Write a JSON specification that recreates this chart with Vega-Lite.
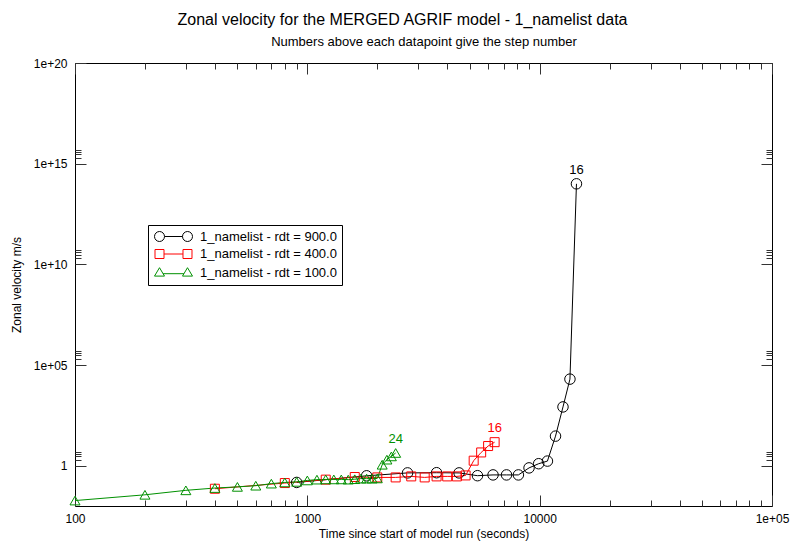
{
  "$schema": "https://vega.github.io/schema/vega-lite/v6.json",
  "autosize": {"type": "none"},
  "padding": {"left": 75, "top": 63, "right": 19, "bottom": 42},
  "width": 697,
  "height": 443,
  "title": {"text": "Zonal velocity for the MERGED AGRIF model - 1_namelist data", "fontSize": 16, "fontWeight": "normal", "font": "Liberation Sans", "color": "black", "anchor": "middle", "offset": 8, "dx": -21},
  "config": {
    "view": {"stroke": "black", "strokeWidth": 1},
    "font": "Liberation Sans",
    "axis": {"grid": false, "domain": false, "tickColor": "#333333", "tickWidth": 1, "labelFont": "Liberation Sans", "labelFontSize": 12, "labelColor": "black", "titleFont": "Liberation Sans", "titleFontSize": 12, "titleFontWeight": "normal", "titleColor": "black", "labelFlush": false, "labelOverlap": false}
  },
  "data": {"values": [
    {"series": "1_namelist - rdt = 900.0", "step": 1, "t": 900, "v": 0.148},
    {"series": "1_namelist - rdt = 900.0", "step": 2, "t": 1800, "v": 0.316},
    {"series": "1_namelist - rdt = 900.0", "step": 3, "t": 2700, "v": 0.44},
    {"series": "1_namelist - rdt = 900.0", "step": 4, "t": 3600, "v": 0.45},
    {"series": "1_namelist - rdt = 900.0", "step": 5, "t": 4500, "v": 0.44},
    {"series": "1_namelist - rdt = 900.0", "step": 6, "t": 5400, "v": 0.32},
    {"series": "1_namelist - rdt = 900.0", "step": 7, "t": 6300, "v": 0.35},
    {"series": "1_namelist - rdt = 900.0", "step": 8, "t": 7200, "v": 0.35},
    {"series": "1_namelist - rdt = 900.0", "step": 9, "t": 8100, "v": 0.35},
    {"series": "1_namelist - rdt = 900.0", "step": 10, "t": 9000, "v": 0.78},
    {"series": "1_namelist - rdt = 900.0", "step": 11, "t": 9900, "v": 1.26},
    {"series": "1_namelist - rdt = 900.0", "step": 12, "t": 10800, "v": 1.7},
    {"series": "1_namelist - rdt = 900.0", "step": 13, "t": 11700, "v": 29.5},
    {"series": "1_namelist - rdt = 900.0", "step": 14, "t": 12600, "v": 832},
    {"series": "1_namelist - rdt = 900.0", "step": 15, "t": 13500, "v": 20000},
    {"series": "1_namelist - rdt = 900.0", "step": 16, "t": 14400, "v": 1.0e14},
    {"series": "1_namelist - rdt = 400.0", "step": 1, "t": 400, "v": 0.072},
    {"series": "1_namelist - rdt = 400.0", "step": 2, "t": 800, "v": 0.138},
    {"series": "1_namelist - rdt = 400.0", "step": 3, "t": 1200, "v": 0.204},
    {"series": "1_namelist - rdt = 400.0", "step": 4, "t": 1600, "v": 0.275},
    {"series": "1_namelist - rdt = 400.0", "step": 5, "t": 2000, "v": 0.263},
    {"series": "1_namelist - rdt = 400.0", "step": 6, "t": 2400, "v": 0.263},
    {"series": "1_namelist - rdt = 400.0", "step": 7, "t": 2800, "v": 0.295},
    {"series": "1_namelist - rdt = 400.0", "step": 8, "t": 3200, "v": 0.263},
    {"series": "1_namelist - rdt = 400.0", "step": 9, "t": 3600, "v": 0.295},
    {"series": "1_namelist - rdt = 400.0", "step": 10, "t": 4000, "v": 0.295},
    {"series": "1_namelist - rdt = 400.0", "step": 11, "t": 4400, "v": 0.295},
    {"series": "1_namelist - rdt = 400.0", "step": 12, "t": 4800, "v": 0.33},
    {"series": "1_namelist - rdt = 400.0", "step": 13, "t": 5200, "v": 1.78},
    {"series": "1_namelist - rdt = 400.0", "step": 14, "t": 5600, "v": 4.57},
    {"series": "1_namelist - rdt = 400.0", "step": 15, "t": 6000, "v": 9.5},
    {"series": "1_namelist - rdt = 400.0", "step": 16, "t": 6400, "v": 14.8},
    {"series": "1_namelist - rdt = 100.0", "step": 1, "t": 100, "v": 0.0186},
    {"series": "1_namelist - rdt = 100.0", "step": 2, "t": 200, "v": 0.036},
    {"series": "1_namelist - rdt = 100.0", "step": 3, "t": 300, "v": 0.06},
    {"series": "1_namelist - rdt = 100.0", "step": 4, "t": 400, "v": 0.078},
    {"series": "1_namelist - rdt = 100.0", "step": 5, "t": 500, "v": 0.089},
    {"series": "1_namelist - rdt = 100.0", "step": 6, "t": 600, "v": 0.102},
    {"series": "1_namelist - rdt = 100.0", "step": 7, "t": 700, "v": 0.129},
    {"series": "1_namelist - rdt = 100.0", "step": 8, "t": 800, "v": 0.148},
    {"series": "1_namelist - rdt = 100.0", "step": 9, "t": 900, "v": 0.158},
    {"series": "1_namelist - rdt = 100.0", "step": 10, "t": 1000, "v": 0.186},
    {"series": "1_namelist - rdt = 100.0", "step": 11, "t": 1100, "v": 0.204},
    {"series": "1_namelist - rdt = 100.0", "step": 12, "t": 1200, "v": 0.209},
    {"series": "1_namelist - rdt = 100.0", "step": 13, "t": 1300, "v": 0.209},
    {"series": "1_namelist - rdt = 100.0", "step": 14, "t": 1400, "v": 0.209},
    {"series": "1_namelist - rdt = 100.0", "step": 15, "t": 1500, "v": 0.204},
    {"series": "1_namelist - rdt = 100.0", "step": 16, "t": 1600, "v": 0.214},
    {"series": "1_namelist - rdt = 100.0", "step": 17, "t": 1700, "v": 0.229},
    {"series": "1_namelist - rdt = 100.0", "step": 18, "t": 1800, "v": 0.229},
    {"series": "1_namelist - rdt = 100.0", "step": 19, "t": 1900, "v": 0.229},
    {"series": "1_namelist - rdt = 100.0", "step": 20, "t": 2000, "v": 0.234},
    {"series": "1_namelist - rdt = 100.0", "step": 21, "t": 2100, "v": 1.12},
    {"series": "1_namelist - rdt = 100.0", "step": 22, "t": 2200, "v": 2.0},
    {"series": "1_namelist - rdt = 100.0", "step": 23, "t": 2300, "v": 2.9},
    {"series": "1_namelist - rdt = 100.0", "step": 24, "t": 2400, "v": 4.3}
  ]},
  "encoding": {
    "x": {"field": "t", "type": "quantitative", "scale": {"type": "log", "domain": [100, 100000], "nice": false}},
    "y": {"field": "v", "type": "quantitative", "scale": {"type": "log", "domain": [0.01, 1e20], "nice": false}}
  },
  "layer": [
    {
      "mark": {"type": "line", "strokeWidth": 1, "clip": true},
      "encoding": {
        "x": {"field": "t", "type": "quantitative", "axis": {"orient": "bottom", "values": [100, 1000, 10000, 100000], "labelExpr": "datum.value >= 100000 ? '1e+05' : format(datum.value, 'd')", "tickSize": -11, "labelPadding": 18, "title": "Time since start of model run (seconds)", "titlePadding": 4}},
        "y": {"field": "v", "type": "quantitative", "axis": {"orient": "left", "values": [1, 100000, 10000000000, 1e15, 1e20], "labelExpr": "datum.value == 1 ? '1' : datum.value == 100000 ? '1e+05' : datum.value == 10000000000 ? '1e+10' : datum.value == 1e15 ? '1e+15' : '1e+20'", "tickSize": -11, "labelPadding": 19, "title": "Zonal velocity m/s", "titlePadding": 10}},
        "color": {"field": "series", "type": "nominal", "scale": {"range": ["#009000", "#ff0000", "#000000"]}, "legend": null}
      }
    },
    {
      "transform": [{"filter": "datum.series == '1_namelist - rdt = 900.0'"}],
      "mark": {"type": "point", "shape": "circle", "size": 110, "filled": false, "strokeWidth": 1, "opacity": 1},
      "encoding": {
        "x": {"field": "t", "type": "quantitative", "axis": {"orient": "top", "values": [100, 1000, 10000, 100000], "labels": false, "tickSize": -11, "title": "Numbers above each datapoint give the step number", "titleFontSize": 13, "titlePadding": 14}},
        "y": {"field": "v", "type": "quantitative", "axis": {"orient": "right", "values": [1, 100000, 10000000000, 1e15, 1e20], "labels": false, "tickSize": -11, "title": null}},
        "color": {"field": "series", "type": "nominal", "legend": null}
      }
    },
    {
      "transform": [{"filter": "datum.series == '1_namelist - rdt = 400.0'"}],
      "mark": {"type": "point", "shape": "square", "size": 81, "filled": false, "strokeWidth": 1, "opacity": 1},
      "encoding": {
        "x": {"field": "t", "type": "quantitative", "axis": {"orient": "bottom", "values": [200, 300, 400, 500, 600, 700, 800, 900, 2000, 3000, 4000, 5000, 6000, 7000, 8000, 9000, 20000, 30000, 40000, 50000, 60000, 70000, 80000, 90000], "labels": false, "tickSize": -6, "title": null}},
        "y": {"field": "v", "type": "quantitative", "axis": {"orient": "left", "values": [2, 3, 4, 5, 200000, 300000, 400000, 500000, 20000000000, 30000000000, 40000000000, 50000000000, 2e15, 3e15, 4e15, 5e15], "labels": false, "tickSize": -6, "title": null}},
        "color": {"field": "series", "type": "nominal", "legend": null}
      }
    },
    {
      "transform": [{"filter": "datum.series == '1_namelist - rdt = 100.0'"}],
      "mark": {"type": "point", "shape": "triangle-up", "size": 100, "filled": false, "strokeWidth": 1, "opacity": 1},
      "encoding": {
        "x": {"field": "t", "type": "quantitative", "axis": {"orient": "top", "values": [200, 300, 400, 500, 600, 700, 800, 900, 2000, 3000, 4000, 5000, 6000, 7000, 8000, 9000, 20000, 30000, 40000, 50000, 60000, 70000, 80000, 90000], "labels": false, "tickSize": -6, "title": null}},
        "y": {"field": "v", "type": "quantitative", "axis": {"orient": "right", "values": [2, 3, 4, 5, 200000, 300000, 400000, 500000, 20000000000, 30000000000, 40000000000, 50000000000, 2e15, 3e15, 4e15, 5e15], "labels": false, "tickSize": -6, "title": null}},
        "color": {"field": "series", "type": "nominal", "legend": null}
      }
    },
    {
      "transform": [
        {"joinaggregate": [{"op": "max", "field": "step", "as": "laststep"}], "groupby": ["series"]},
        {"filter": "datum.step == datum.laststep"}
      ],
      "mark": {"type": "text", "dy": -14, "fontSize": 13, "font": "Liberation Sans"},
      "encoding": {
        "x": {"field": "t", "type": "quantitative", "axis": null},
        "y": {"field": "v", "type": "quantitative", "axis": null},
        "text": {"field": "step", "type": "quantitative"},
        "color": {"field": "series", "type": "nominal", "legend": null}
      }
    },
    {
      "mark": {"type": "point", "size": 144, "filled": false, "strokeWidth": 1, "opacity": 0},
      "encoding": {
        "x": {"field": "t", "type": "quantitative", "axis": null},
        "y": {"field": "v", "type": "quantitative", "axis": null},
        "stroke": {"field": "series", "type": "nominal", "scale": {"domain": ["1_namelist - rdt = 900.0", "1_namelist - rdt = 400.0", "1_namelist - rdt = 100.0"], "range": ["#000000", "#ff0000", "#009000"]}, "legend": {"orient": "none", "legendX": 73, "legendY": 162, "title": null, "strokeColor": "black", "fillColor": "white", "padding": 5, "labelFontSize": 13, "labelColor": "black", "labelFont": "Liberation Sans", "symbolSize": 144, "symbolOffset": 14, "labelOffset": 20, "rowPadding": 3.5, "symbolStrokeWidth": 1, "symbolOpacity": 1}},
        "shape": {"field": "series", "type": "nominal", "scale": {"domain": ["1_namelist - rdt = 900.0", "1_namelist - rdt = 400.0", "1_namelist - rdt = 100.0"], "range": [
          "M-3.167,0 A0.833,0.833 0 1 1 -1.5,0 A0.833,0.833 0 1 1 -3.167,0 M-1.5,0 L1.5,0 M1.5,0 A0.833,0.833 0 1 1 3.167,0 A0.833,0.833 0 1 1 1.5,0",
          "M-3.083,-0.75 H-1.583 V0.75 H-3.083 Z M-1.583,0 H1.583 M1.583,-0.75 H3.083 V0.75 H1.583 Z",
          "M-2.333,-0.8 L-1.5,0.6 L-3.167,0.6 Z M-1.738,0.2 L1.738,0.2 M2.333,-0.8 L3.167,0.6 L1.5,0.6 Z"
        ]}, "legend": {"orient": "none", "legendX": 73, "legendY": 162, "title": null, "strokeColor": "black", "fillColor": "white", "padding": 5, "labelFontSize": 13, "labelColor": "black", "labelFont": "Liberation Sans", "symbolSize": 144, "symbolOffset": 14, "labelOffset": 20, "rowPadding": 3.5, "symbolStrokeWidth": 1, "symbolOpacity": 1}}
      }
    }
  ],
  "resolve": {"axis": {"x": "independent", "y": "independent"}}
}
